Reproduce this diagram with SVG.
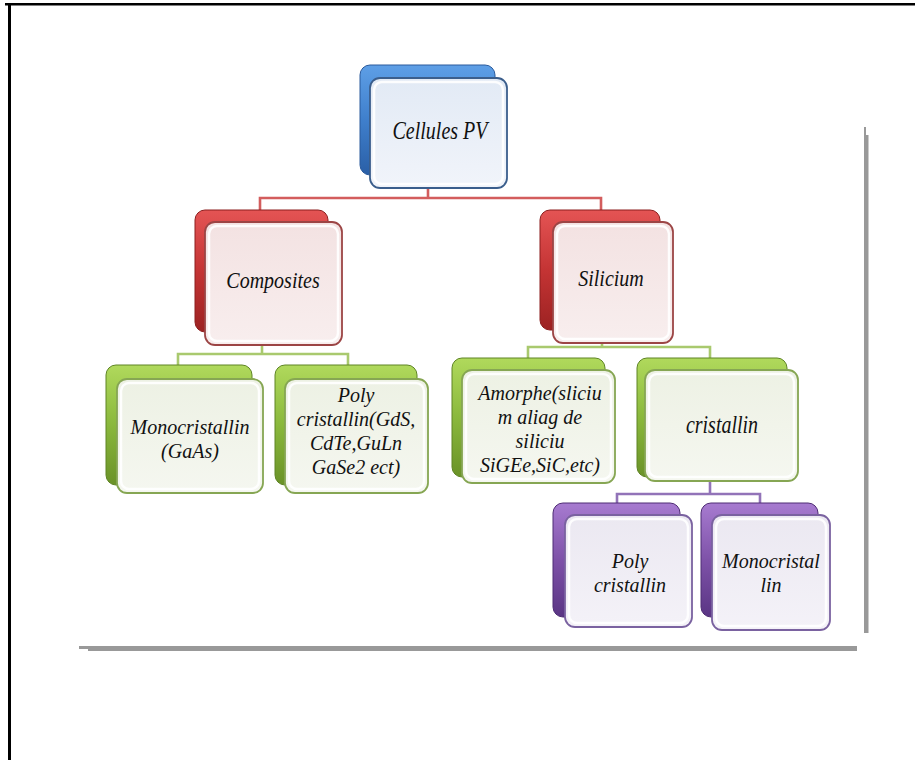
<svg xmlns="http://www.w3.org/2000/svg" width="915" height="760" viewBox="0 0 915 760">
<style>
.t{font-family:"Liberation Serif","Times New Roman",serif;font-style:italic;font-size:20px;fill:#111;text-anchor:middle}
.hl{fill:none;stroke:#ffffff;stroke-width:2.5;opacity:0.9}
.c{fill:none;stroke-width:2.6}
.red{stroke:#d35d5d}
.grn{stroke:#a9c96e}
.pur{stroke:#9273b8}
</style>
<defs>
<linearGradient id="gB" x1="0" y1="0" x2="0" y2="1"><stop offset="0" stop-color="#5e9fe6"/><stop offset="0.5" stop-color="#3f7fcc"/><stop offset="1" stop-color="#2a5fa6"/></linearGradient>
<linearGradient id="gR" x1="0" y1="0" x2="0" y2="1"><stop offset="0" stop-color="#e45454"/><stop offset="0.5" stop-color="#c43434"/><stop offset="1" stop-color="#9c2222"/></linearGradient>
<linearGradient id="gG" x1="0" y1="0" x2="0" y2="1"><stop offset="0" stop-color="#b0d95c"/><stop offset="0.5" stop-color="#8ab83c"/><stop offset="1" stop-color="#6a9228"/></linearGradient>
<linearGradient id="gP" x1="0" y1="0" x2="0" y2="1"><stop offset="0" stop-color="#a77bd0"/><stop offset="0.5" stop-color="#7e52a8"/><stop offset="1" stop-color="#5a3584"/></linearGradient>
<linearGradient id="fB" x1="0" y1="0" x2="0" y2="1"><stop offset="0" stop-color="#e2eaf5"/><stop offset="1" stop-color="#f1f4fa"/></linearGradient>
<linearGradient id="fR" x1="0" y1="0" x2="0" y2="1"><stop offset="0" stop-color="#f3e2e2"/><stop offset="1" stop-color="#f8eeee"/></linearGradient>
<linearGradient id="fG" x1="0" y1="0" x2="0" y2="1"><stop offset="0" stop-color="#edf1e4"/><stop offset="1" stop-color="#f5f7f0"/></linearGradient>
<linearGradient id="fP" x1="0" y1="0" x2="0" y2="1"><stop offset="0" stop-color="#ebe8f1"/><stop offset="1" stop-color="#f4f2f8"/></linearGradient>
</defs>
<rect width="915" height="760" fill="#ffffff"/>
<g id="frame">
<rect x="5" y="3" width="910" height="2.5" fill="#000"/>
<rect x="8" y="3" width="3" height="757" fill="#000"/>
<rect x="79" y="646" width="10" height="3" fill="#999"/>
<rect x="88" y="646" width="769" height="5" fill="#999"/>
<rect x="864" y="127" width="2" height="10" fill="#999"/>
<rect x="864" y="135" width="4.5" height="498" fill="#999"/>
</g>
<g id="connectors">
<path class="c red" d="M428 188V198M260 210V198H601V210"/>
<path class="c grn" d="M262 345V354M178 365V354H348V365"/>
<path class="c grn" d="M602 343V347M528 358V347H710V358"/>
<path class="c pur" d="M710 480V494M617 503V494H760V503"/>
</g>
<g id="n-root">
<rect x="360" y="65" width="135" height="110" rx="10" fill="url(#gB)" stroke="#2a5a9c"/>
<rect x="370" y="78" width="137" height="110" rx="10" fill="url(#fB)" stroke="#3b5e8c" stroke-width="1.8"/>
<rect x="374" y="82" width="129" height="102" rx="8" class="hl"/>
<text class="t" transform="translate(440,139) scale(1,1.3)">Cellules PV</text>
</g>
<g id="n-composites">
<rect x="195" y="210" width="133" height="122" rx="10" fill="url(#gR)" stroke="#8c1e1e"/>
<rect x="205" y="222" width="137" height="123" rx="10" fill="url(#fR)" stroke="#9c4545" stroke-width="1.8"/>
<rect x="209" y="226" width="129" height="115" rx="8" class="hl"/>
<text class="t" transform="translate(273,288) scale(1,1.15)">Composites</text>
</g>
<g id="n-silicium">
<rect x="540" y="210" width="120" height="120" rx="10" fill="url(#gR)" stroke="#8c1e1e"/>
<rect x="553" y="222" width="120" height="121" rx="10" fill="url(#fR)" stroke="#9c4545" stroke-width="1.8"/>
<rect x="557" y="226" width="112" height="113" rx="8" class="hl"/>
<text class="t" transform="translate(611,286) scale(1,1.15)">Silicium</text>
</g>
<g id="n-monoGaAs">
<rect x="106" y="365" width="146" height="120" rx="10" fill="url(#gG)" stroke="#5e8424"/>
<rect x="117" y="379" width="146" height="114" rx="10" fill="url(#fG)" stroke="#86a653" stroke-width="1.8"/>
<rect x="121" y="383" width="138" height="106" rx="8" class="hl"/>
<text class="t" x="190" y="434">Monocristallin</text>
<text class="t" x="190" y="458">(GaAs)</text>
</g>
<g id="n-polyGdS">
<rect x="275" y="365" width="142" height="120" rx="10" fill="url(#gG)" stroke="#5e8424"/>
<rect x="285" y="379" width="143" height="114" rx="10" fill="url(#fG)" stroke="#86a653" stroke-width="1.8"/>
<rect x="289" y="383" width="135" height="106" rx="8" class="hl"/>
<text class="t" x="356" y="402">Poly</text>
<text class="t" x="356" y="426">cristallin(GdS,</text>
<text class="t" x="356" y="450">CdTe,GuLn</text>
<text class="t" x="356" y="474">GaSe2 ect)</text>
</g>
<g id="n-amorphe">
<rect x="452" y="358" width="153" height="119" rx="10" fill="url(#gG)" stroke="#5e8424"/>
<rect x="462" y="370" width="153" height="113" rx="10" fill="url(#fG)" stroke="#86a653" stroke-width="1.8"/>
<rect x="466" y="374" width="145" height="105" rx="8" class="hl"/>
<text class="t" x="540" y="400">Amorphe(sliciu</text>
<text class="t" x="540" y="424">m aliag de</text>
<text class="t" x="540" y="448">siliciu</text>
<text class="t" x="540" y="472">SiGEe,SiC,etc)</text>
</g>
<g id="n-cristallin">
<rect x="637" y="358" width="150" height="119" rx="10" fill="url(#gG)" stroke="#5e8424"/>
<rect x="645" y="370" width="153" height="111" rx="10" fill="url(#fG)" stroke="#86a653" stroke-width="1.8"/>
<rect x="649" y="374" width="145" height="103" rx="8" class="hl"/>
<text class="t" transform="translate(722,433) scale(1,1.3)">cristallin</text>
</g>
<g id="n-poly">
<rect x="553" y="503" width="127" height="114" rx="10" fill="url(#gP)" stroke="#4e2c74"/>
<rect x="565" y="515" width="127" height="112" rx="10" fill="url(#fP)" stroke="#7a62a0" stroke-width="1.8"/>
<rect x="569" y="519" width="119" height="104" rx="8" class="hl"/>
<text class="t" x="630" y="568">Poly</text>
<text class="t" x="630" y="592">cristallin</text>
</g>
<g id="n-mono">
<rect x="701" y="503" width="117" height="114" rx="10" fill="url(#gP)" stroke="#4e2c74"/>
<rect x="712" y="515" width="118" height="115" rx="10" fill="url(#fP)" stroke="#7a62a0" stroke-width="1.8"/>
<rect x="716" y="519" width="110" height="107" rx="8" class="hl"/>
<text class="t" x="771" y="568">Monocristal</text>
<text class="t" x="771" y="592">lin</text>
</g>
</svg>
